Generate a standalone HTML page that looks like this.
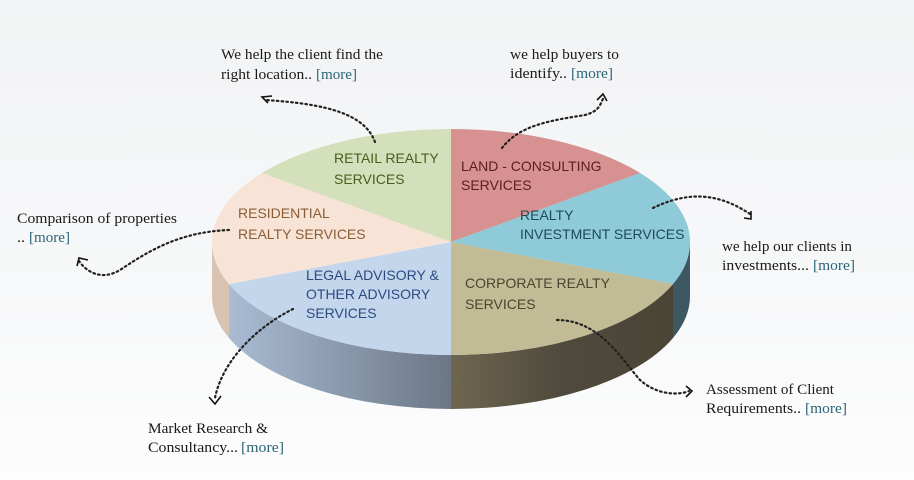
<!DOCTYPE html>
<html><head><meta charset="utf-8"><style>
html,body{margin:0;padding:0;}
body{width:914px;height:480px;overflow:hidden;background:linear-gradient(#f2f3f4,#f7f8f9 60%,#fdfdfd);}
svg{display:block}
.s{font-family:"Liberation Sans",sans-serif;font-size:14px;}
.a{font-family:"Liberation Serif",serif;font-size:14.5px;fill:#1a1a1a;}
.m{fill:#2a6478;}
.d{fill:none;stroke:#222;stroke-width:2.2;stroke-dasharray:1.6 3.2;stroke-linecap:round;}
.h{fill:none;stroke:#111;stroke-width:1.6;}
</style></head><body>
<svg width="914" height="480" viewBox="0 0 914 480">
<defs>
<linearGradient id="gb" x1="0" x2="1"><stop offset="0" stop-color="#a9bcd3"/><stop offset="1" stop-color="#6c7787"/></linearGradient>
<linearGradient id="go" x1="0" x2="1"><stop offset="0" stop-color="#6f6650"/><stop offset="0.5" stop-color="#4f4a3c"/><stop offset="1" stop-color="#4a4535"/></linearGradient>
</defs>
<path d="M212,242 A239,113 0 0 0 229,284 L229,338 A239,113 0 0 1 212,296 Z" fill="#d8c2b2"/>
<path d="M229,284 A239,113 0 0 0 451,355 L451,409 A239,113 0 0 1 229,338 Z" fill="url(#gb)"/>
<path d="M451,355 A239,113 0 0 0 673,284 L673,338 A239,113 0 0 1 451,409 Z" fill="url(#go)"/>
<path d="M673,284 A239,113 0 0 0 690,242 L690,296 A239,113 0 0 1 673,338 Z" fill="#3d5860"/>
<path d="M451,242 L451,129 A239,113 0 0 1 640,173 Z" fill="#d69190"/>
<path d="M451,242 L640,173 A239,113 0 0 1 673,284 Z" fill="#8fcad9"/>
<path d="M451,242 L673,284 A239,113 0 0 1 451,355 Z" fill="#c1bc95"/>
<path d="M451,242 L451,355 A239,113 0 0 1 229,284 Z" fill="#c3d6ec"/>
<path d="M451,242 L229,284 A239,113 0 0 1 262,173 Z" fill="#f8e4d6"/>
<path d="M451,242 L262,173 A239,113 0 0 1 451,129 Z" fill="#d4e0bc"/>
<text class="s" fill="#4b5e1c"><tspan x="334" y="163">RETAIL REALTY</tspan><tspan x="334" y="184">SERVICES</tspan></text>
<text class="s" fill="#5a1f1f"><tspan x="461" y="171">LAND - CONSULTING</tspan><tspan x="461" y="190">SERVICES</tspan></text>
<text class="s" fill="#1f4a58"><tspan x="520" y="220">REALTY</tspan><tspan x="520" y="239">INVESTMENT SERVICES</tspan></text>
<text class="s" fill="#8a5d36"><tspan x="238" y="218">RESIDENTIAL</tspan><tspan x="238" y="239">REALTY SERVICES</tspan></text>
<text class="s" fill="#2c4b82"><tspan x="306" y="280">LEGAL ADVISORY &amp;</tspan><tspan x="306" y="299">OTHER ADVISORY</tspan><tspan x="306" y="318">SERVICES</tspan></text>
<text class="s" fill="#4a4430"><tspan x="465" y="288">CORPORATE REALTY</tspan><tspan x="465" y="309">SERVICES</tspan></text>
<path class="d" d="M375,142 C365,115 330,104 265,100"/>
<polyline class="h" points="268,103 262,97 272,96"/>
<path class="d" d="M502,148 C520,124 555,120 585,115 C600,111 600,104 603,99"/>
<polyline class="h" points="597,100 603,94 607,101"/>
<path class="d" d="M653,208 C690,190 720,194 750,214"/>
<polyline class="h" points="751,211 751,219 744,218"/>
<path class="d" d="M229,230 C180,232 150,250 120,270 C100,282 85,270 79,261"/>
<polyline class="h" points="77,266 79,258 88,260"/>
<path class="d" d="M293,309 C255,328 222,362 215,398"/>
<polyline class="h" points="209,397 215,404 221,396"/>
<path class="d" d="M557,320 C600,320 622,360 640,380 C658,396 680,395 689,391"/>
<polyline class="h" points="686,386 692,391 686,397"/>
<g class="a" lengthAdjust="spacingAndGlyphs">
<text x="221" y="59" textLength="162" lengthAdjust="spacingAndGlyphs">We help the client find the</text>
<text x="221" y="79" textLength="91" lengthAdjust="spacingAndGlyphs">right location..</text>
<text class="m" x="316" y="79" textLength="41" lengthAdjust="spacingAndGlyphs">[more]</text>
<text x="510" y="59" textLength="109" lengthAdjust="spacingAndGlyphs">we help buyers to</text>
<text x="510" y="78" textLength="57" lengthAdjust="spacingAndGlyphs">identify..</text>
<text class="m" x="571" y="78" textLength="42" lengthAdjust="spacingAndGlyphs">[more]</text>
<text x="17" y="223" textLength="160" lengthAdjust="spacingAndGlyphs">Comparison of properties</text>
<text x="17" y="242" textLength="8" lengthAdjust="spacingAndGlyphs">..</text>
<text class="m" x="29" y="242" textLength="41" lengthAdjust="spacingAndGlyphs">[more]</text>
<text x="722" y="251" textLength="130" lengthAdjust="spacingAndGlyphs">we help our clients in</text>
<text x="722" y="270" textLength="87" lengthAdjust="spacingAndGlyphs">investments...</text>
<text class="m" x="813" y="270" textLength="42" lengthAdjust="spacingAndGlyphs">[more]</text>
<text x="706" y="394" textLength="128" lengthAdjust="spacingAndGlyphs">Assessment of Client</text>
<text x="706" y="413" textLength="95" lengthAdjust="spacingAndGlyphs">Requirements..</text>
<text class="m" x="805" y="413" textLength="42" lengthAdjust="spacingAndGlyphs">[more]</text>
<text x="148" y="433" textLength="120" lengthAdjust="spacingAndGlyphs">Market Research &amp;</text>
<text x="148" y="452" textLength="90" lengthAdjust="spacingAndGlyphs">Consultancy...</text>
<text class="m" x="241" y="452" textLength="43" lengthAdjust="spacingAndGlyphs">[more]</text>
</g>
</svg>
</body></html>
